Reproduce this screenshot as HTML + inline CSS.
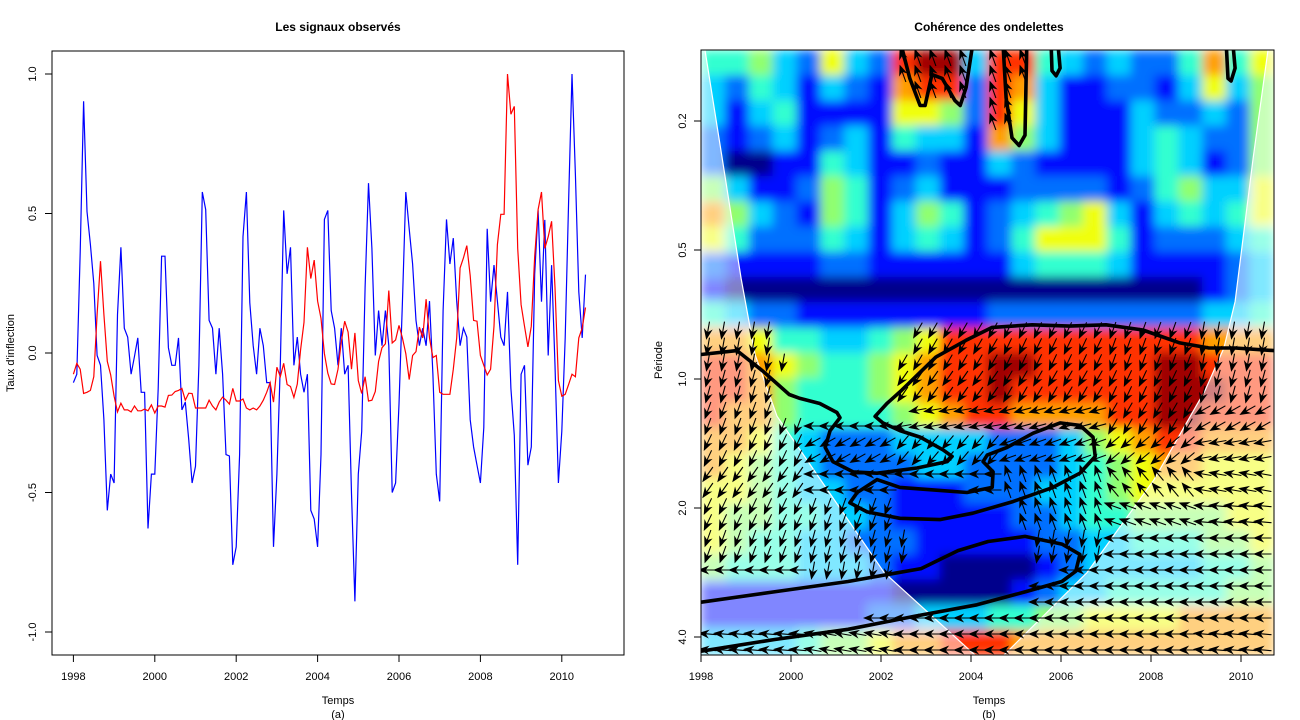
<!DOCTYPE html>
<html><head><meta charset="utf-8"><style>
html,body{margin:0;padding:0;background:#fff;}
svg{display:block;font-family:"Liberation Sans",Arial,sans-serif;}
</style></head><body>
<svg id="root" width="1300" height="720" viewBox="0 0 1300 720" xmlns="http://www.w3.org/2000/svg">
<defs>
<clipPath id="clipL"><rect x="52" y="51" width="572" height="604"/></clipPath>
<clipPath id="clipR"><rect x="701" y="50" width="573" height="605"/></clipPath>
<filter id="soft" x="0" y="0" width="1" height="1"><feGaussianBlur stdDeviation="5" edgeMode="duplicate"/></filter>
</defs>
<g id="left">
<text x="338" y="31" text-anchor="middle" font-size="12" font-weight="bold">Les signaux observés</text>
<rect x="52" y="51" width="572" height="604" fill="none" stroke="#000" stroke-width="1"/>
<text transform="translate(14,353) rotate(-90)" text-anchor="middle" font-size="11">Taux d'inflection</text>
<text x="338" y="704" text-anchor="middle" font-size="11">Temps</text>
<text x="338" y="718" text-anchor="middle" font-size="11">(a)</text>
<g id="lAxes"></g>
<g id="lSeries" clip-path="url(#clipL)"></g>
</g>
<g id="right">
<text x="989" y="31" text-anchor="middle" font-size="12" font-weight="bold">Cohérence des ondelettes</text>
<g id="heat" clip-path="url(#clipR)"><g id="heatCells" filter="url(#soft)"></g></g>
<g id="coi" clip-path="url(#clipR)"></g>
<g id="arrows" clip-path="url(#clipR)"></g>
<g id="contours" clip-path="url(#clipR)"></g>
<rect x="701" y="50" width="573" height="605" fill="none" stroke="#000" stroke-width="1"/>
<text transform="translate(662,360) rotate(-90)" text-anchor="middle" font-size="11">Période</text>
<text x="989" y="704" text-anchor="middle" font-size="11">Temps</text>
<text x="989" y="718" text-anchor="middle" font-size="11">(b)</text>
<g id="rAxes"></g>
</g>
</svg>
<script>
// ---------- Left chart data ----------
const startYear = 1998;
const blueSeries = [-0.106,-0.076,0.361,0.902,0.507,0.389,0.249,-0.009,-0.044,-0.239,-0.564,-0.434,-0.466,0.138,0.379,0.089,0.057,-0.076,-0.012,0.054,-0.141,-0.141,-0.629,-0.434,-0.434,-0.127,0.347,0.347,0.019,-0.044,-0.044,0.054,-0.204,-0.176,-0.309,-0.466,-0.406,-0.044,0.577,0.514,0.117,0.089,-0.076,0.089,-0.076,-0.364,-0.369,-0.759,-0.695,-0.364,0.417,0.577,0.180,0.026,-0.076,0.089,0.026,-0.106,-0.106,-0.695,-0.434,-0.044,0.511,0.284,0.379,-0.044,0.057,-0.076,-0.141,-0.076,-0.564,-0.595,-0.695,-0.364,0.479,0.511,0.152,0.089,-0.044,
0.089,-0.076,-0.044,-0.504,-0.890,-0.434,-0.281,0.235,0.609,0.375,-0.009,0.152,0.026,0.152,0.026,-0.500,-0.466,-0.183,0.180,0.577,0.445,0.319,0.117,0.026,0.089,0.026,0.186,-0.076,-0.434,-0.532,0.152,0.479,0.319,0.412,0.186,0.026,0.089,0.057,-0.239,-0.337,-0.402,-0.466,-0.267,0.445,0.184,0.315,0.186,0.057,0.026,0.219,-0.127,-0.295,-0.759,-0.076,-0.044,-0.402,-0.337,0.284,0.511,0.184,0.477,-0.009,0.315,-0.044,-0.466,-0.281,0.054,0.542,1.0,0.640,0.219,0.054,0.281];
const redSeries = [-0.076,-0.037,-0.058,-0.145,-0.141,-0.134,-0.085,0.138,0.329,0.138,-0.030,-0.079,-0.155,-0.211,-0.180,-0.204,-0.204,-0.211,-0.190,-0.207,-0.207,-0.201,-0.207,-0.186,-0.215,-0.190,-0.190,-0.194,-0.152,-0.151,-0.138,-0.134,-0.127,-0.169,-0.144,-0.145,-0.197,-0.197,-0.197,-0.197,-0.169,-0.190,-0.204,-0.176,-0.158,-0.169,-0.183,-0.127,-0.172,-0.172,-0.165,-0.197,-0.204,-0.197,-0.204,-0.190,-0.169,-0.141,-0.106,-0.176,-0.051,-0.085,-0.037,-0.113,-0.120,-0.159,-0.111,0.012,0.110,0.379,0.267,0.333,0.186,0.124,-0.002,-0.072,-0.111,-0.113,-0.058,0.040,
0.114,0.075,-0.058,0.072,-0.099,-0.145,-0.085,-0.172,-0.169,-0.138,-0.030,0.019,0.033,0.224,0.036,0.047,0.099,0.054,-0.002,-0.095,-0.009,0.005,0.093,0.054,0.193,0.054,-0.016,-0.009,-0.141,-0.148,-0.148,-0.148,-0.058,0.054,0.305,0.340,0.385,0.277,0.117,0.114,-0.009,-0.044,-0.079,-0.058,0.096,0.389,0.497,0.497,1.0,0.856,0.884,0.375,0.173,0.096,0.022,0.096,0.347,0.514,0.577,0.375,0.417,0.472,0.235,-0.099,-0.155,-0.148,-0.113,-0.076,-0.085,0.054,0.089,0.163];
const leftYTicks = [-1.0,-0.5,0.0,0.5,1.0];
const leftYTickLabels = ["-1.0","-0.5","0.0","0.5","1.0"];
const xTickYears = [1998,2000,2002,2004,2006,2008,2010];

// ---------- Right chart data ----------
const heatYearStart = 1998, heatYearEnd = 2010.73;
const heatLog2Top = -2.55, heatLog2Bottom = 2.14;
const coherenceRows = [
"445326328993884323224746","324313217882873112213635","313411116652863111322325","212312314331753111343225",
"200114311211321111343125","531125412311122221245336","753215413541234563134346","642224313431246664122234",
"211112211111134443111123","100000000000000000000123","432211111111222222222334","776443345688888888888777",
"887654456788998888899888","887544456788988888899988","877544445678877778899888","776432223333222356788777",
"765432222332222345677666","665433221112223345666666","655443321111122344555566","654433222111112233444556",
"544433321100001233333445","111111110000012334444455","111111122333445566667777","333345567788877777777777"];
const periodTicks = [0.25,0.5,1,2,4];
const periodTickLabels = ["0.2","0.5","1.0","2.0","4.0"];
const phaseAngles = [
[100,110,120,115,110,100],[105,120,125,120,115,105],[110,180,170,165,120,150],[115,150,130,160,140,170],
[125,180,180,250,230,190],[115,110,100,250,200,185],[110,105,100,100,180,180],[180,100,100,180,180,180],
[180,180,180,180,180,180],[185,190,180,180,180,185]];
// contours: [year, log2(period)]
const contourMain = [[1998.00,-0.19],[1998.80,-0.22],[1999.38,-0.06],[1999.96,0.12],[2000.20,0.15],[2000.64,0.19],[2001.02,0.26],[2001.09,0.30],[2000.87,0.40],[2000.76,0.53],[2000.93,0.64],[2001.38,0.72],[2001.91,0.73],[2002.80,0.69],[2003.47,0.64],[2003.58,0.60],[2003.38,0.55],[2002.87,0.45],[2002.42,0.40],[2002.04,0.34],[2001.87,0.29],[2002.13,0.19],[2002.42,0.10],[2003.22,-0.17],[2003.89,-0.30],[2004.47,-0.40],[2005.36,-0.42],[2006.18,-0.41],[2007.00,-0.42],[2007.82,-0.38],[2008.64,-0.28],[2009.29,-0.24],[2009.87,-0.24],[2010.73,-0.22]];
const contourLoop = [[2001.91,0.78],[2001.47,0.88],[2001.31,0.96],[2001.69,1.03],[2002.42,1.08],[2003.31,1.09],[2004.04,1.04],[2004.93,0.95],[2005.82,0.84],[2006.42,0.73],[2006.76,0.60],[2006.71,0.45],[2006.42,0.36],[2005.98,0.34],[2005.38,0.42],[2004.80,0.53],[2004.36,0.59],[2004.27,0.64],[2004.49,0.72],[2004.47,0.84],[2003.91,0.88],[2003.16,0.86],[2002.42,0.84],[2001.91,0.78]];
const contourLower = [[1998.00,1.73],[1999.62,1.65],[2001.27,1.57],[2002.07,1.52],[2002.89,1.47],[2003.71,1.33],[2004.38,1.26],[2005.20,1.22],[2006.02,1.28],[2006.42,1.36],[2006.33,1.49],[2006.02,1.57],[2005.20,1.65],[2004.13,1.75],[2002.73,1.84],[2001.27,1.94],[1999.62,2.02],[1998.00,2.11]];
const contourTopA = [[2002.44,-2.60],[2002.64,-2.33],[2002.87,-2.12],[2002.98,-2.12],[2003.13,-2.36],[2003.36,-2.33],[2003.64,-2.16],[2003.76,-2.12],[2003.89,-2.26],[2004.04,-2.60]];
const contourTopB = [[2004.71,-2.60],[2004.78,-2.18],[2004.91,-1.87],[2005.07,-1.81],[2005.20,-1.89],[2005.24,-2.60]];
const contourTopC = [[2005.78,-2.60],[2005.80,-2.39],[2005.89,-2.35],[2005.98,-2.41],[2005.93,-2.60]];
const contourTopD = [[2009.67,-2.60],[2009.71,-2.33],[2009.78,-2.31],[2009.87,-2.41],[2009.82,-2.60]];
const coiLeft = [[1998.09,-2.55],[1998.47,-1.71],[1998.89,-0.78],[1999.20,-0.19],[1999.69,0.29],[2002.07,1.50],[2004.09,2.14]];
const coiRight = [[2010.60,-2.55],[2010.27,-1.71],[2009.87,-0.60],[2009.62,-0.24],[2009.20,0.09],[2008.07,0.78],[2006.58,1.50],[2004.73,2.14]];

const NS = "http://www.w3.org/2000/svg";
function mk(tag, attrs, parent){const e=document.createElementNS(NS,tag);for(const k in attrs)e.setAttribute(k,attrs[k]);parent.appendChild(e);return e;}

// ---------- Left scales ----------
const lx = t => 73.4 + 40.7*(t-1998);
const ly = v => 353 - 279*v;
const lAxes = document.getElementById('lAxes');
leftYTicks.forEach((v,i)=>{
  const tk = mk('line',{x1:52,x2:45,y1:ly(v),y2:ly(v),stroke:'#000'},lAxes);
  
  
  const tx = mk('text',{transform:`translate(36,${ly(v)}) rotate(-90)`,'text-anchor':'middle','font-size':11},lAxes);
  tx.textContent = leftYTickLabels[i];
  
  
});
xTickYears.forEach(y=>{
  const tk = mk('line',{x1:lx(y),x2:lx(y),y1:655,y2:662,stroke:'#000'},lAxes);
  
  
  const tx = mk('text',{x:lx(y),y:680,'text-anchor':'middle','font-size':11},lAxes);
  tx.textContent = String(y);
  
  
});
const lSeries = document.getElementById('lSeries');
function linePts(arr){return arr.map((v,i)=>lx(startYear+i/12).toFixed(1)+','+ly(v).toFixed(1)).join(' ');}
const bl = mk('polyline',{points:linePts(blueSeries),fill:'none',stroke:'#0000ff','stroke-width':1.2},lSeries);


const rl = mk('polyline',{points:linePts(redSeries),fill:'none',stroke:'#ff0000','stroke-width':1.2},lSeries);



// ---------- Right scales ----------
const rx = t => 701 + 45*(t-1998);
const ry = lp => 379 + 129*lp;
const jet = ["#00008C","#0010FF","#0070FF","#00D0FF","#30FFD0","#90FF70","#F0FF10","#FFA000","#FF3000","#A00000"];
const heatVals = coherenceRows.map(r=>r.split('').map(Number));
const nR = heatVals.length, nC = heatVals[0].length;
const cw = (rx(heatYearEnd)-rx(heatYearStart))/nC, ch = (ry(heatLog2Bottom)-ry(heatLog2Top))/nR;
const heatCells = document.getElementById('heatCells');
heatVals.forEach((row,r)=>row.forEach((v,c)=>{
  const cell = mk('rect',{x:(rx(heatYearStart)+c*cw).toFixed(2),y:(ry(heatLog2Top)+r*ch).toFixed(2),width:(cw+0.6).toFixed(2),height:(ch+0.6).toFixed(2),fill:jet[v]},heatCells);
  
  
}));
// cone of influence
const coiG = document.getElementById('coi');
const inner = coiLeft.map(p=>[rx(p[0]),ry(p[1])]).concat(coiRight.slice().reverse().map(p=>[rx(p[0]),ry(p[1])]));
const innerD = 'M'+inner.map(p=>p[0].toFixed(1)+','+p[1].toFixed(1)).join(' L')+' Z';
const ov = mk('path',{d:'M701,50 H1274 V655 H701 Z '+innerD,'fill-rule':'evenodd',fill:'#fff','fill-opacity':0.5},coiG);


[coiLeft,coiRight].forEach(arr=>{
  const l = mk('polyline',{points:arr.map(p=>rx(p[0]).toFixed(1)+','+ry(p[1]).toFixed(1)).join(' '),fill:'none',stroke:'#fff','stroke-width':1.2},coiG);
  
  
});
// phase arrows
const arrG = document.getElementById('arrows');
for(let py=58; py<655; py+=16){
  for(let px=708; px<1274; px+=15){
    const r = Math.min(nR-1, Math.floor((py-50)/ch)), c = Math.min(nC-1, Math.floor((px-701)/cw));
    const v = heatVals[r][c];
    const ok = v>=8 || (py>=420 && v>=2) || (py>=320 && py<420 && v>=6);
    if(!ok) continue;
    let ang;
    if(py<320) ang = 250;
    else {
      const b = Math.max(0,Math.min(9,Math.floor((py-330)/32.5)));
      const cb = Math.max(0,Math.min(5,Math.floor((px-701)/100)));
      ang = phaseAngles[b][cb];
    }
    const a = ang*Math.PI/180, dx=Math.cos(a), dy=Math.sin(a), L=8.5;
    const tx=px+dx*L, ty=py+dy*L, sx=px-dx*L, sy=py-dy*L;
    const bx=tx-dx*8, by=ty-dy*8, nx=-dy*3.2, ny=dx*3.2;
    const mx=tx-dx*5.5, my=ty-dy*5.5;
    const ar = mk('path',{d:`M${sx.toFixed(1)},${sy.toFixed(1)} L${mx.toFixed(1)},${my.toFixed(1)} M${tx.toFixed(1)},${ty.toFixed(1)} L${(bx+nx).toFixed(1)},${(by+ny).toFixed(1)} L${mx.toFixed(1)},${my.toFixed(1)} L${(bx-nx).toFixed(1)},${(by-ny).toFixed(1)} Z`,stroke:'#000','stroke-width':1.1,fill:'#000'},arrG);
    
    
  }
}
// contours
const conG = document.getElementById('contours');
[contourMain,contourLoop,contourLower,contourTopA,contourTopB,contourTopC,contourTopD].forEach(arr=>{
  const p = mk('polyline',{points:arr.map(q=>rx(q[0]).toFixed(1)+','+ry(q[1]).toFixed(1)).join(' '),fill:'none',stroke:'#000','stroke-width':3.6,'stroke-linejoin':'round','stroke-linecap':'round'},conG);
  
  
});
// right axes
const rAxes = document.getElementById('rAxes');
periodTicks.forEach((p,i)=>{
  const y = ry(Math.log2(p));
  const tk = mk('line',{x1:701,x2:694,y1:y,y2:y,stroke:'#000'},rAxes);
  
  
  const tx = mk('text',{transform:`translate(686,${y}) rotate(-90)`,'text-anchor':'middle','font-size':11},rAxes);
  tx.textContent = periodTickLabels[i];
  
  
});
xTickYears.forEach(y=>{
  const tk = mk('line',{x1:rx(y),x2:rx(y),y1:655,y2:662,stroke:'#000'},rAxes);
  
  
  const tx = mk('text',{x:rx(y),y:680,'text-anchor':'middle','font-size':11},rAxes);
  tx.textContent = String(y);
  
  
});
</script>
</body></html>
